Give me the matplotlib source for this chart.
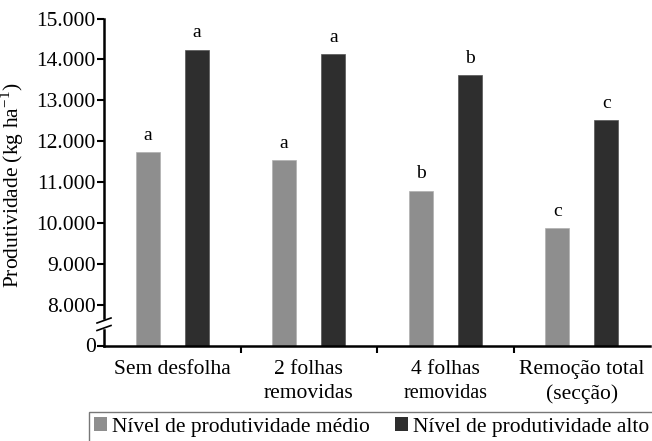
import matplotlib
matplotlib.use("Agg")
import matplotlib.pyplot as plt
import matplotlib.transforms as mtransforms
from matplotlib.patches import Patch
import numpy as np

plt.rcParams['font.family'] = ['Liberation Serif', 'DejaVu Serif']

### data
categorias = ["Sem desfolha", "2 folhas\nremovidas", "4 folhas\nremovidas", "Remoção total\n(secção)"]
medio = [11730, 11540, 10790, 9870]
alto = [14240, 14120, 13610, 12510]
letras_medio = ["a", "a", "b", "c"]
letras_alto = ["a", "a", "b", "c"]
yticks_valores = [0, 8000, 9000, 10000, 11000, 12000, 13000, 14000, 15000]
yticks_rotulos = ["0", "8.000", "9.000", "10.000", "11.000", "12.000", "13.000", "14.000", "15.000"]
legenda = ["Nível de produtividade médio", "Nível de produtividade alto"]

cor_medio = "#8e8e8e"
cor_alto = "#2e2e2e"
fs = 15.5

### broken axis: everything >= 8000 is shifted down so that 0 sits one step under 8000
quebra = 7000
def transf(v):
    return 0 if v == 0 else v - quebra

fig = plt.figure(figsize=(6.52, 4.41), dpi=100)
ax = fig.add_axes([104/652, 1 - 345.5/441, 546/652, (345.5 - 18.5)/441])

x = np.arange(len(categorias))
w = 0.176
off = 0.18
ax.bar(x - off, [transf(v) for v in medio], w, color=cor_medio, edgecolor="#b0b0b0", linewidth=0.5)
ax.bar(x + off, [transf(v) for v in alto], w, color=cor_alto, edgecolor="#555555", linewidth=0.5)

for i in range(len(categorias)):
    ax.annotate(letras_medio[i], (x[i] - off, transf(medio[i])), xytext=(0, 6), textcoords="offset points",
                ha="center", va="bottom", fontsize=14)
    ax.annotate(letras_alto[i], (x[i] + off, transf(alto[i])), xytext=(0, 6), textcoords="offset points",
                ha="center", va="bottom", fontsize=14)

ax.set_xlim(-0.5, len(categorias) - 0.5)
ax.set_ylim(0, transf(15000))
ax.set_yticks([transf(v) for v in yticks_valores])
ax.set_yticklabels(yticks_rotulos, fontsize=fs)
ax.tick_params(axis="y", direction="out", length=5, width=1.5, pad=1)

# category labels under the axis, ticks between the groups
ax.set_xticks(x)
ax.set_xticklabels([])
ax.tick_params(axis="x", which="major", length=0)
ax.set_xticks(np.arange(0.5, len(categorias) - 0.5, 1), minor=True)
ax.tick_params(axis="x", which="minor", direction="out", length=5, width=1.5)

trans = mtransforms.blended_transform_factory(ax.transData, ax.transAxes)
for i, cat in enumerate(categorias):
    linhas = cat.split("\n")
    ax.text(x[i], -0.045, linhas[0], transform=trans, ha="center", va="top", fontsize=fs)
    if len(linhas) > 1:
        f2 = 14.5 if i == 2 else fs
        ax.text(x[i], -0.118, linhas[1], transform=trans, ha="center", va="top", fontsize=f2)

ax.set_ylabel("Produtividade (kg ha$^{\\mathregular{-1}}$)", fontsize=fs)
ax.yaxis.set_label_coords(-0.142, 0.49)

for s in ["top", "right"]:
    ax.spines[s].set_visible(False)
ax.spines["bottom"].set_linewidth(1.8)
ax.spines["left"].set_visible(False)

# left spine drawn in two pieces with the break marks
y_lo = (345.5 - 330) / 327
y_hi = (345.5 - 318) / 327
ax.plot([0, 0], [0, y_lo], transform=ax.transAxes, color="black", lw=1.8, clip_on=False)
ax.plot([0, 0], [y_hi, 1], transform=ax.transAxes, color="black", lw=1.8, clip_on=False)
dx = 7 / 546
for yy in [(345.5 - 328) / 327, (345.5 - 320.5) / 327]:
    ax.plot([-dx, dx], [yy - 2.5/327, yy + 2.5/327], transform=ax.transAxes, color="black", lw=1.2, clip_on=False)

handles = [Patch(facecolor=cor_medio, edgecolor="none"), Patch(facecolor=cor_alto, edgecolor="none")]
leg = fig.legend(handles, legenda, loc="upper left", bbox_to_anchor=(89/652, 1 - 412/441), ncol=2,
                 fontsize=fs, frameon=True, fancybox=False, edgecolor="#555555",
                 handlelength=0.6, handleheight=0.6, handletextpad=0.2, columnspacing=1.2,
                 borderpad=0.25, borderaxespad=0)
leg.get_frame().set_linewidth(1.0)

fig.savefig("out.png", dpi=100)
